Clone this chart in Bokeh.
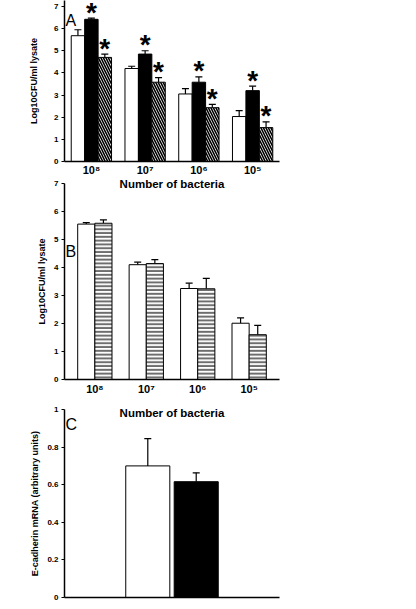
from bokeh.plotting import figure
from bokeh.layouts import column
from bokeh.models import (ColumnDataSource, FactorRange, Whisker, TeeHead, Legend,
                          LegendItem, FixedTicker, Range1d, Label)
from bokeh.transform import dodge
from bokeh.core.properties import value
from bokeh.embed import file_html
from bokeh.resources import INLINE

FONT = "Liberation Sans"

# ---------------- data ----------------
groups = ["10⁸", "10⁷", "10⁶", "10⁵"]

a_control = [5.68, 4.20, 3.05, 2.03]
a_control_err = [0.27, 0.10, 0.24, 0.27]
a_mrk16 = [6.42, 4.85, 3.58, 3.20]
a_mrk16_err = [0.05, 0.15, 0.24, 0.20]
a_mdr = [4.70, 3.58, 2.43, 1.53]
a_mdr_err = [0.15, 0.21, 0.15, 0.26]

b_control = [5.55, 4.10, 3.25, 2.01]
b_control_err = [0.05, 0.09, 0.19, 0.19]
b_isotype = [5.58, 4.14, 3.24, 1.60]
b_isotype_err = [0.12, 0.14, 0.37, 0.33]

c_cells = ["Caco-2", "Caco-2/MDR"]
c_values = [0.70, 0.616]
c_err = [0.145, 0.047]

y_ticks_ab = [0, 1, 2, 3, 4, 5, 6, 7]
y_ticks_c = [0, 0.2, 0.4, 0.6, 0.8, 1]

CTL = dict(fill_color="white", line_color="black", line_width=1)
MRK = dict(fill_color="black", line_color="black", line_width=1)
MDR = dict(fill_color="white", line_color="black", line_width=1, hatch_pattern="\\",
           hatch_color="black", hatch_weight=1.6, hatch_scale=5)
ISO = dict(fill_color="white", line_color="black", line_width=1, hatch_pattern="-",
           hatch_color="#6e6e6e", hatch_weight=2.2, hatch_scale=3.8)

TOTAL_H = 601


def add(v, e):
    return [a + b for a, b in zip(v, e)]


def style(p, ylabel, xlabel=None):
    p.outline_line_color = None
    p.xgrid.visible = False
    p.ygrid.visible = False
    p.background_fill_alpha = 0
    p.border_fill_alpha = 0
    for ax in (p.xaxis[0], p.yaxis[0]):
        ax.axis_line_width = 1.5
        ax.axis_line_color = "black"
        ax.major_label_text_font = FONT
        ax.major_label_text_font_style = "bold"
        ax.major_label_text_color = "black"
        ax.axis_label_text_font = FONT
        ax.axis_label_text_font_style = "bold"
        ax.axis_label_text_color = "black"
        ax.minor_tick_line_color = None
    p.yaxis.major_tick_out = 3
    p.yaxis.major_tick_in = 0
    p.yaxis.major_tick_line_width = 1.2
    p.yaxis.major_label_text_font_size = "8px"
    p.yaxis.major_label_standoff = 3
    p.yaxis.axis_label = ylabel
    p.yaxis.axis_label_text_font_size = "9px"
    p.xaxis.major_tick_line_color = None
    p.xaxis.major_tick_out = 0
    p.xaxis.major_tick_in = 0
    p.xaxis.major_label_text_font_size = "11px"
    if xlabel:
        p.xaxis.axis_label = xlabel
        p.xaxis.axis_label_text_font_size = "11.5px"


def whisker(p, base, lo, hi, src):
    p.add_layout(Whisker(base=base, lower=lo, upper=hi, source=src, line_width=1.2,
                         line_color="black", upper_head=TeeHead(size=7, line_width=1.2),
                         lower_head=None))


# ---------------- overlay for panel letters and legends (fixed frame = whole canvas) ----
ov = figure(frame_width=400, frame_height=TOTAL_H, x_range=Range1d(0, 1),
            y_range=Range1d(0, 1), output_backend="svg", toolbar_location=None,
            title=None, min_border_left=0, min_border_right=0, min_border_top=0,
            min_border_bottom=0, x_axis_location=None, y_axis_location=None)
ov.grid.visible = False
ov.outline_line_color = None
ov.background_fill_alpha = 0
ov.border_fill_alpha = 0

empty = dict(x=[], top=[], width=1)
gA1 = ov.vbar(**empty, **CTL)
gA2 = ov.vbar(**empty, **MRK)
gA3 = ov.vbar(**empty, **MDR)
gB2 = ov.vbar(**empty, **ISO)


def legend(items, loc):
    ov.add_layout(Legend(items=items, location=loc, border_line_color=None,
                         background_fill_alpha=0, glyph_width=7, glyph_height=7,
                         label_height=10, label_standoff=3, spacing=4, padding=0,
                         margin=0, label_text_font=FONT, label_text_font_style="bold",
                         label_text_font_size="9px", label_text_color="black"))


legend([LegendItem(label="Control", renderers=[gA1]),
        LegendItem(label="MRK16", renderers=[gA2]),
        LegendItem(label="Caco-2/MDR", renderers=[gA3])], (289, 498))
legend([LegendItem(label="Control", renderers=[gA1]),
        LegendItem(label="Isotype", renderers=[gB2])], (357, 308))
legend([LegendItem(label="Caco-2", renderers=[gA1]),
        LegendItem(label="Caco-2/MDR", renderers=[gA2])], (323, 90))

for txt, y in [("A", 581), ("B", 350), ("C", 177)]:
    ov.add_layout(Label(x=1, y=y, x_units="screen", y_units="screen", text=txt,
                        text_font=FONT, text_font_size="16px", text_align="left",
                        text_baseline="middle", text_color="black"))

# ---------------- panel A ----------------
srcA = ColumnDataSource(dict(
    cat=groups, ctl=a_control, ctl_hi=add(a_control, a_control_err),
    mrk=a_mrk16, mrk_hi=add(a_mrk16, a_mrk16_err),
    mdr=a_mdr, mdr_hi=add(a_mdr, a_mdr_err)))

pA = figure(width=400, height=205, x_range=FactorRange(*groups, range_padding=0),
            y_range=Range1d(0, 7.27), output_backend="svg", toolbar_location=None,
            min_border_left=64, min_border_right=121, min_border_top=0,
            min_border_bottom=44)
style(pA, "Log10CFU/ml lysate", "Number of bacteria")
pA.yaxis.ticker = FixedTicker(ticks=y_ticks_ab)
pA.yaxis.axis_label_standoff = 12
pA.xaxis.major_label_standoff = 2
pA.xaxis.axis_label_standoff = -1
pA.margin = (-TOTAL_H, 0, 0, 0)

w = 0.25
pA.vbar(x=dodge("cat", -w, range=pA.x_range), top="ctl", width=w, source=srcA, **CTL)
pA.vbar(x=dodge("cat", 0, range=pA.x_range), top="mrk", width=w, source=srcA, **MRK)
pA.vbar(x=dodge("cat", w, range=pA.x_range), top="mdr", width=w, source=srcA, **MDR)
for off, lo, hi in [(-w, "ctl", "ctl_hi"), (0, "mrk", "mrk_hi"), (w, "mdr", "mdr_hi")]:
    whisker(pA, dodge("cat", off, range=pA.x_range), lo, hi, srcA)
for off, hi in [(0, "mrk_hi"), (w, "mdr_hi")]:
    pA.text(x=dodge("cat", off, range=pA.x_range), y=hi, text=value("*"), source=srcA,
            text_font=value(FONT), text_font_style="bold", text_font_size="28px",
            text_align="center", text_baseline="middle", y_offset=-6, text_color="black")

# ---------------- panel B ----------------
srcB = ColumnDataSource(dict(
    cat=groups, ctl=b_control, ctl_hi=add(b_control, b_control_err),
    iso=b_isotype, iso_hi=add(b_isotype, b_isotype_err)))

pB = figure(width=400, height=248,
            x_range=FactorRange(*groups, range_padding=0.09, range_padding_units="absolute"),
            y_range=Range1d(0, 7), output_backend="svg", toolbar_location=None,
            min_border_left=55, min_border_right=44, min_border_top=6,
            min_border_bottom=46)
style(pB, "Log10CFU/ml lysate", "Number of bacteria")
pB.yaxis.ticker = FixedTicker(ticks=y_ticks_ab)
pB.yaxis.axis_label_standoff = 4
pB.xaxis.major_label_standoff = 3
pB.xaxis.axis_label_standoff = 9
pB.margin = (-28, 0, 0, 0)

wb = 1 / 3
pB.vbar(x=dodge("cat", -wb / 2, range=pB.x_range), top="ctl", width=wb, source=srcB, **CTL)
pB.vbar(x=dodge("cat", wb / 2, range=pB.x_range), top="iso", width=wb, source=srcB, **ISO)
for off, lo, hi in [(-wb / 2, "ctl", "ctl_hi"), (wb / 2, "iso", "iso_hi")]:
    whisker(pB, dodge("cat", off, range=pB.x_range), lo, hi, srcB)

# ---------------- panel C ----------------
srcC = ColumnDataSource(dict(cat=c_cells, val=c_values, hi=add(c_values, c_err),
                             color=["white", "black"]))

pC = figure(width=400, height=198,
            x_range=FactorRange(*c_cells, range_padding=1.22, range_padding_units="absolute"),
            y_range=Range1d(0, 1), output_backend="svg", toolbar_location=None,
            min_border_left=59, min_border_right=41, min_border_top=6,
            min_border_bottom=4)
style(pC, "E-cadherin mRNA (arbitrary units)")
pC.yaxis.ticker = FixedTicker(ticks=y_ticks_c)
pC.yaxis.major_label_overrides = {0: "0", 1: "1"}
pC.yaxis.axis_label_standoff = 4
pC.xaxis.major_label_text_font_size = "1px"
pC.xaxis.major_label_text_color = None
pC.xaxis.major_label_standoff = 0
pC.margin = (-22, 0, 0, 0)

pC.vbar(x="cat", top="val", width=0.91, source=srcC, fill_color="color",
        line_color="black", line_width=1)
whisker(pC, "cat", "val", "hi", srcC)

layout = column(ov, pA, pB, pC, spacing=0)
open("out.html", "w").write(file_html(layout, INLINE))
